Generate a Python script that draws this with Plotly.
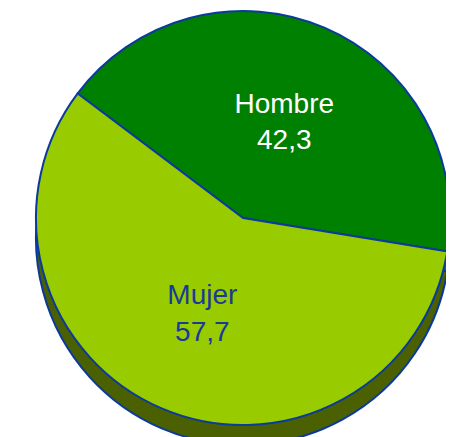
import plotly.graph_objects as go

labels = ["Hombre", "Mujer"]
values = [42.3, 57.7]
value_text = ["42,3", "57,7"]
colors = ["#008000", "#99CC00"]
shadow_color = "#4B6000"
line_color = "#0A3A9C"
text_colors = ["#FFFFFF", "#1A3A9A"]

W, H = 454, 437
cx, cy, r = 235, 210, 207
depth = 20

def dom(cxp, cyp, rp):
    y0 = max(0.0, (H - (cyp + rp)) / H)
    y1 = min(1.0, (H - (cyp - rp)) / H)
    return dict(x=[(cxp - rp) / W, (cxp + rp) / W], y=[y0, y1])

fig = go.Figure()
# extruded side (shadow)
fig.add_trace(go.Pie(
    labels=labels, values=values, sort=False, direction="clockwise",
    rotation=-53, domain=dom(cx, cy + depth, r),
    marker=dict(colors=[shadow_color, shadow_color], line=dict(color=line_color, width=2)),
    textinfo="none", hoverinfo="skip", showlegend=False,
))
# top face
fig.add_trace(go.Pie(
    labels=labels, values=values, sort=False, direction="clockwise",
    rotation=-53, domain=dom(cx, cy, r),
    marker=dict(colors=colors, line=dict(color=line_color, width=2)),
    text=[f"{l}<br>{v}" for l, v in zip(labels, value_text)],
    textinfo="text", textposition="inside", insidetextorientation="horizontal",
    insidetextfont=dict(family="Liberation Sans Narrow, Arial Narrow, Liberation Sans, Arial, sans-serif",
                        size=28, color=text_colors),
    showlegend=False,
))
fig.update_layout(width=W, height=H, margin=dict(l=0, r=0, t=0, b=0),
                  paper_bgcolor="white", plot_bgcolor="white")
fig.write_html("out.html")
